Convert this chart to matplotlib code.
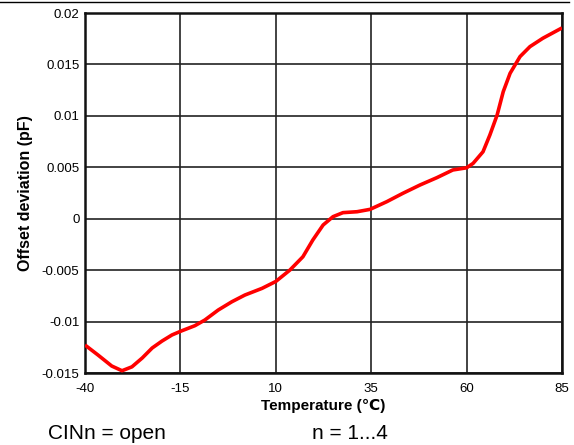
import matplotlib
matplotlib.use("Agg")
import matplotlib.pyplot as plt
from matplotlib.lines import Line2D

plt.rcParams['font.family'] = ['Liberation Sans', 'DejaVu Sans']

temps = [-40, -36.6, -33, -30.3, -27.7, -25, -22.4, -19.8, -17.2, -14.6, -11.2, -8.6, -5.1, -1.5,
         1.9, 6.4, 10, 13.7, 17.1, 19.7, 22.4, 25, 27.6, 31.3, 34.7, 39.1, 43.3, 47.8, 52.2, 56.4,
         60, 61.7, 64.3, 66.1, 68, 69.6, 71.4, 74, 76.6, 80, 85]
offset = [-0.01228, -0.01325, -0.01432, -0.01478, -0.0144, -0.01354, -0.01257, -0.01189, -0.0113,
          -0.01089, -0.0104, -0.00985, -0.00888, -0.00807, -0.00742, -0.00677, -0.0061, -0.00499,
          -0.0037, -0.00207, -0.00061, 0.0002, 0.00059, 0.00068, 0.00091, 0.00166, 0.00247, 0.00328,
          0.00399, 0.00474, 0.00495, 0.00538, 0.00651, 0.00814, 0.01008, 0.01235, 0.01414, 0.01576,
          0.01673, 0.01755, 0.01855]

xticks = [-40, -15, 10, 35, 60, 85]
yticks = [-0.015, -0.01, -0.005, 0, 0.005, 0.01, 0.015, 0.02]
ytick_labels = ['-0.015', '-0.01', '-0.005', '0', '0.005', '0.01', '0.015', '0.02']

fig = plt.figure(figsize=(5.74, 4.45), dpi=100)
ax = fig.add_axes([85/574, 1-373/445, (562-85)/574, (373-13)/445])

ax.plot(temps, offset, color='#ff0000', lw=2.6, solid_joinstyle='round', solid_capstyle='butt',
        zorder=3, clip_on=True)

ax.set_xlim(-40, 85)
ax.set_ylim(-0.015, 0.02)
ax.set_xticks(xticks)
ax.set_xticklabels([str(t) for t in xticks])
ax.set_yticks(yticks)
ax.set_yticklabels(ytick_labels)
ax.tick_params(length=0, labelsize=9.5)
ax.tick_params(axis='x', pad=7)
ax.tick_params(axis='y', pad=4)
ax.grid(True, color='#222222', lw=1.2)
for s in ax.spines.values():
    s.set_linewidth(1.8)
    s.set_color('#111111')

ax.set_xlabel('Temperature (℃)', fontsize=11, fontweight='bold', labelpad=3)
ax.set_ylabel('Offset deviation (pF)', fontsize=11.5, fontweight='bold', labelpad=6)

fig.text(48/574, 1-439/445, 'CINn = open', fontsize=15, va='baseline', ha='left')
fig.text(312/574, 1-439/445, 'n = 1...4', fontsize=15, va='baseline', ha='left')

fig.add_artist(Line2D([0, 569/574], [1-1.5/445, 1-1.5/445], color='black', lw=1.0,
                      transform=fig.transFigure))

fig.savefig('out.png', dpi=100)
